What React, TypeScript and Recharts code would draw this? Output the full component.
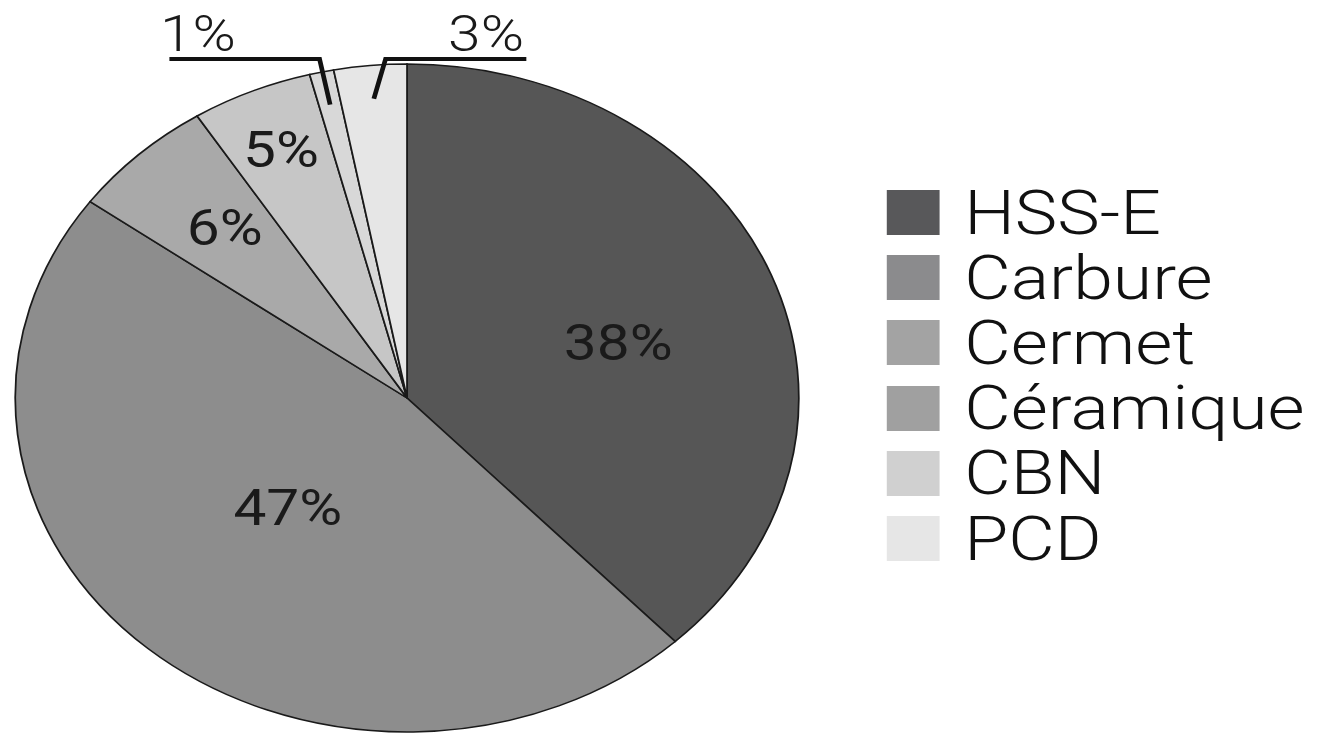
import { PieChart, Pie, Cell, Legend } from "recharts";

const materials = ["HSS-E", "Carbure", "Cermet", "Céramique", "CBN", "PCD"];
const shares = [38, 47, 6, 5, 1, 3];

const sliceColors = ["#565656", "#8d8d8d", "#a9a9a9", "#c6c6c6", "#d8d8d8", "#e6e6e6"];
const legendColors = ["#58585a", "#8b8b8d", "#a3a3a3", "#a0a0a0", "#d0d0d0", "#e6e6e6"];

// the source image is stretched horizontally
const STRETCH = 1.173;
const FONT = "Roboto, 'Open Sans', sans-serif";
const RAD = Math.PI / 180;

// radius factor and vertical nudge for the inside labels (index 0..3)
const insideRadius = [0.58, 0.46, 0.68, 0.81];
const insideNudge = [16, -6, -5, 0];

const chartData = materials.map((name, i) => ({ name, value: shares[i] }));

function renderLabel(props: any) {
  const { cx, cy, midAngle, outerRadius, index, value } = props;
  const cos = Math.cos(-midAngle * RAD);
  const sin = Math.sin(-midAngle * RAD);
  if (index < 4) {
    const r = outerRadius * insideRadius[index];
    return (
      <text
        x={cx + r * cos}
        y={cy + r * sin + insideNudge[index]}
        textAnchor="middle"
        dominantBaseline="central"
        fill="#1a1a1a"
        fontFamily={FONT}
        fontSize={50}
      >
        {`${value}%`}
      </text>
    );
  }
  // small slices: callout line going up to a horizontal underline
  const sx = cx + outerRadius * 0.9 * cos;
  const sy = cy + outerRadius * 0.9 * sin;
  const ey = cy - outerRadius * 1.015;
  const left = index === 4;
  const ex = left ? sx - 9 : sx + 10;
  const hx = left ? ex - 128 : ex + 120;
  return (
    <g>
      <path
        d={`M${sx},${sy}L${ex},${ey}L${hx},${ey}`}
        fill="none"
        stroke="#111"
        strokeWidth={4}
      />
      <text
        x={left ? hx - 8 : hx - 2}
        y={ey - 8}
        textAnchor={left ? "start" : "end"}
        fill="#1a1a1a"
        fontFamily={FONT}
        fontWeight={300}
        fontSize={50}
      >
        {`${value}%`}
      </text>
    </g>
  );
}

function renderLegend() {
  return (
    <div style={{ fontFamily: FONT }}>
      {materials.map((m, i) => (
        <div
          key={m}
          style={{ display: "flex", alignItems: "center", height: 65.2 }}
        >
          <div
            style={{
              width: 45,
              height: 45,
              background: legendColors[i],
              marginRight: 21,
            }}
          />
          <span
            style={{
              fontSize: 61,
              fontWeight: 300,
              color: "#111",
              lineHeight: "60px",
            }}
          >
            {m}
          </span>
        </div>
      ))}
    </div>
  );
}

export default function App() {
  return (
    <div
      style={{
        position: "absolute",
        left: 0,
        top: 0,
        width: 1139,
        height: 733,
        background: "#fff",
        transform: `scaleX(${STRETCH})`,
        transformOrigin: "left top",
      }}
    >
      <PieChart width={1139} height={733}>
        <Pie
          data={chartData}
          dataKey="value"
          nameKey="name"
          cx={342}
          cy={393}
          outerRadius={334}
          startAngle={90}
          endAngle={-270}
          stroke="#1a1a1a"
          strokeWidth={1.5}
          label={renderLabel}
          labelLine={false}
          isAnimationActive={false}
        >
          {chartData.map((_e, i) => (
            <Cell key={`cell-${i}`} fill={sliceColors[i]} />
          ))}
        </Pie>
        <Legend
          content={renderLegend}
          wrapperStyle={{ left: 756, top: 180, width: 380 }}
        />
      </PieChart>
    </div>
  );
}
